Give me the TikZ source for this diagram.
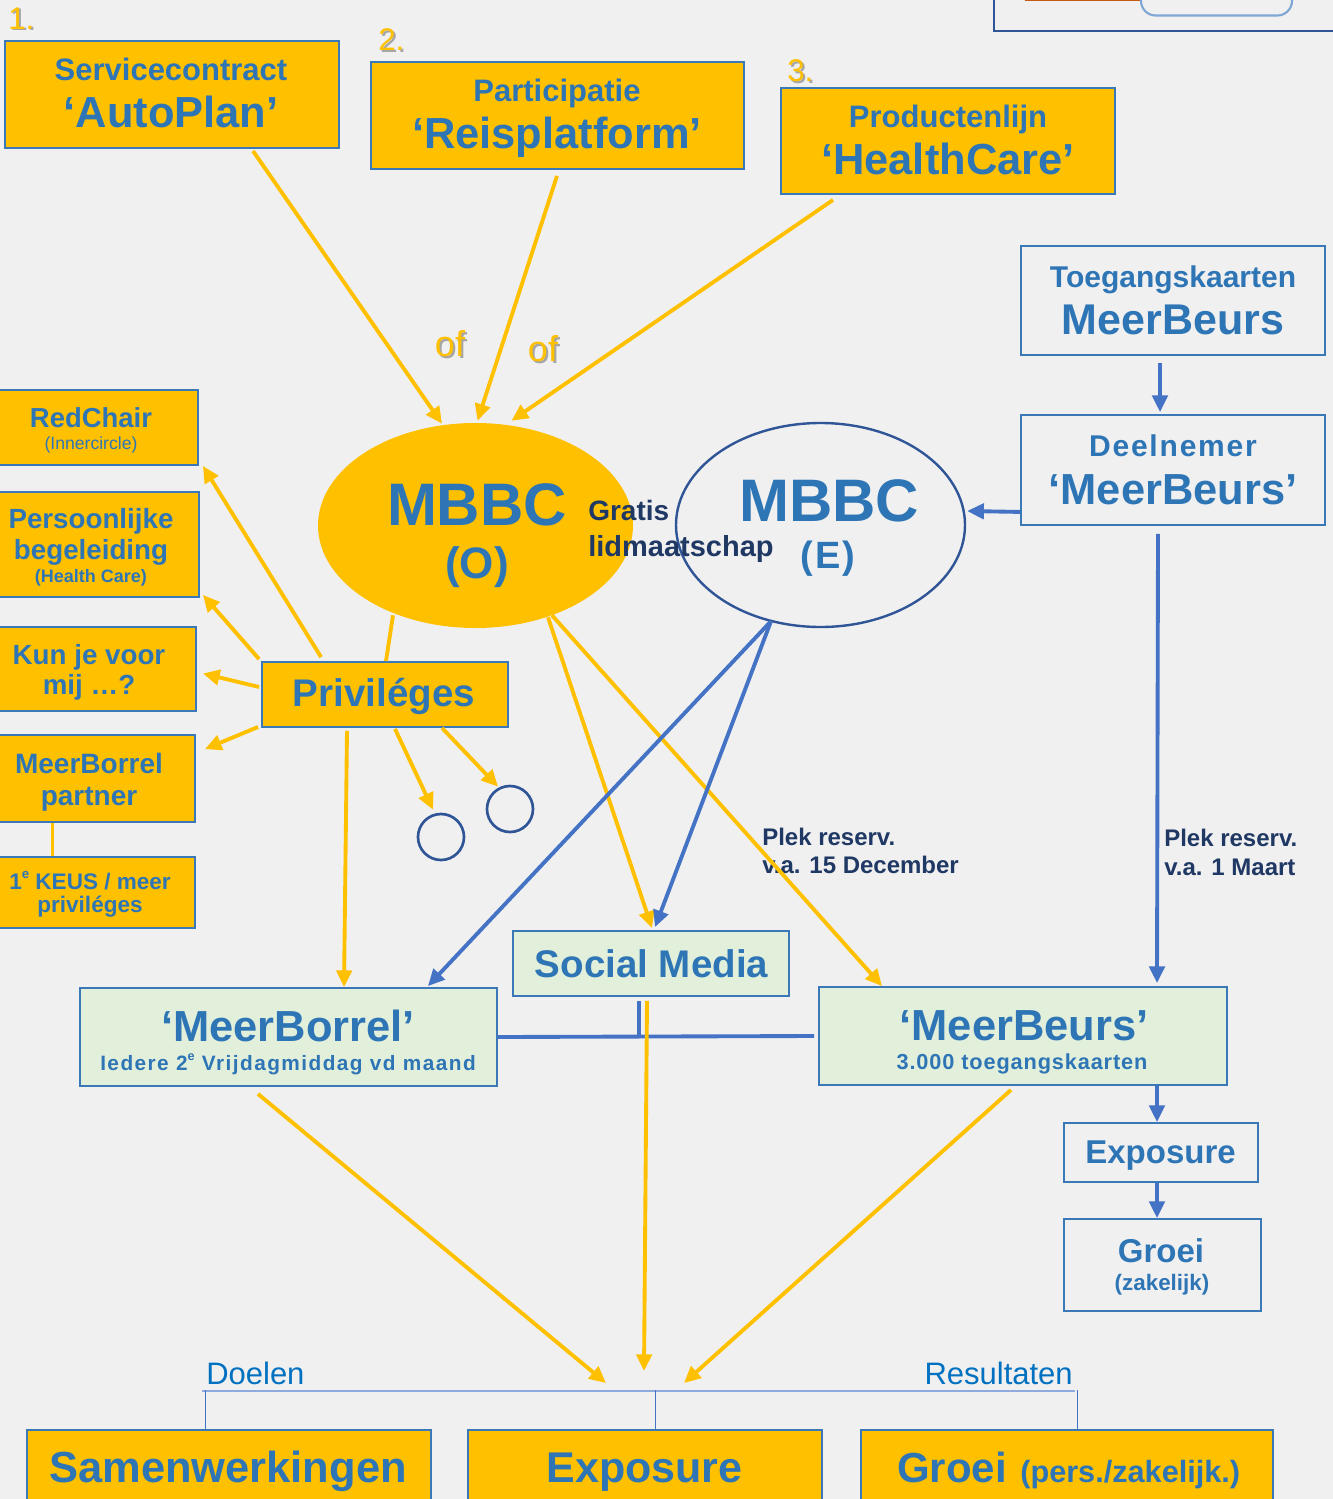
\documentclass[tikz,border=0pt]{standalone}
\usepackage{fontspec}
\setmainfont{Liberation Sans}
\usetikzlibrary{shapes.geometric,arrows.meta,fit,calc}
\definecolor{bg}{HTML}{F0F0F0}
\definecolor{yel}{HTML}{FFC000}
\definecolor{tblue}{HTML}{2E75B6}
\definecolor{bdr}{HTML}{3A78B8}
\definecolor{arrb}{HTML}{4472C4}
\definecolor{navy}{HTML}{1F3864}
\definecolor{ellE}{HTML}{2F5597}
\definecolor{grn}{HTML}{E2EFDA}
\definecolor{dblue}{HTML}{0070C0}
\definecolor{hlc}{HTML}{8FAADC}
\definecolor{orng}{HTML}{C55A11}
\definecolor{rrc}{HTML}{7FA7D6}
\newcommand\fpx[1]{\fontsize{#1pt}{#1pt}\selectfont}
\newcommand\mysupe[1]{\raisebox{0.45em}{\fpx{#1}e}}
\tikzset{
  ybox/.style={draw=bdr, line width=1.4pt, fill=yel, inner sep=0pt, rectangle},
  gbox/.style={draw=bdr, line width=1.4pt, fill=grn, inner sep=0pt, rectangle},
  wbox/.style={draw=bdr, line width=1.4pt, inner sep=0pt, rectangle},
  t/.style={text=tblue, inner sep=0pt, anchor=base},
  nv/.style={text=navy, inner sep=0pt, anchor=base west, font=\bfseries\fpx{18}},
  lbl/.style={text=yel, inner sep=0pt, anchor=base west},
  lblsh/.style={text=black!35, inner sep=0pt, anchor=base west},
  yarrow/.style={draw=yel, line width=2.9pt, -{Triangle[length=12.5pt,width=11.5pt]}},
  yline/.style={draw=yel, line width=2.9pt},
  barrow/.style={draw=arrb, line width=2.9pt, -{Triangle[length=12.5pt,width=11.5pt]}},
  bline/.style={draw=arrb, line width=2.9pt},
  ring/.style={circle, draw=ellE, line width=2pt, minimum size=34.5pt, inner sep=0pt},
}
\begin{document}
\begin{tikzpicture}[x=0.75pt,y=-0.75pt]
\fill[bg] (0,0) rectangle (1333,1499);
\useasboundingbox (0,0) rectangle (1333,1499);

% partial top-right object
\draw[ellE, line width=1.2pt] (994,-5) -- (994,31) -- (1340,31);
\draw[orng, line width=2pt] (1025,0) -- (1140,0);
\draw[rrc, line width=1.6pt, rounded corners=11pt] (1141,-20) -- (1141,15.5) -- (1292,15.5) -- (1292,-20);

% numbers and "of"
\node[lblsh, font=\fpx{23.5}] (n1s) at (10,31) {1.};
\node[lbl, font=\fpx{23.5}] (n1) at (8,29) {1.};
\node[lblsh, font=\fpx{23.5}] (n2s) at (380,52) {2.};
\node[lbl, font=\fpx{23.5}] (n2) at (378,50) {2.};
\node[lblsh, font=\fpx{23.5}] (n3s) at (789,83) {3.};
\node[lbl, font=\fpx{23.5}] (n3) at (787,81) {3.};
\node[lblsh, font=\fpx{27}, anchor=base] (of1s) at (452,358) {of};
\node[lbl, font=\fpx{27}, anchor=base] (of1) at (450,356) {of};
\node[lblsh, font=\fpx{27}, anchor=base] (of2s) at (545,363) {of};
\node[lbl, font=\fpx{27}, anchor=base] (of2) at (543,361) {of};

% top boxes
\node[ybox, fit={(5,41) (339,148)}] (b1) {};
\node[t, font=\bfseries\fpx{23.25}] (b1a) at (171,80) {Servicecontract};
\node[t, font=\bfseries\fpx{32.6}] (b1b) at (171,127) {‘AutoPlan’};
\node[ybox, fit={(371,62) (744,169)}] (b2) {};
\node[t, font=\bfseries\fpx{23.25}] (b2a) at (557,101) {Participatie};
\node[t, font=\bfseries\fpx{32.6}] (b2b) at (557,148) {‘Reisplatform’};
\node[ybox, fit={(781,88) (1115,194)}] (b3) {};
\node[t, font=\bfseries\fpx{23.25}] (b3a) at (948,127) {Productenlijn};
\node[t, font=\bfseries\fpx{32.6}] (b3b) at (948,174) {‘HealthCare’};

% right boxes
\node[wbox, fit={(1021,246) (1325,355)}] (tk) {};
\node[t, font=\bfseries\fpx{22.5}] (tka) at (1173,287) {Toegangskaarten};
\node[t, font=\bfseries\fpx{32.25}] (tkb) at (1173,334) {MeerBeurs};
\node[wbox, fit={(1021,415) (1325,525)}] (dn) {};
\node[t, font=\bfseries\fpx{22.5}\addfontfeatures{LetterSpace=6}] (dna) at (1173,456) {Deelnemer};
\node[t, font=\bfseries\fpx{32.6}] (dnb) at (1173,504) {‘MeerBeurs’};

% ellipses
\node[ellipse, fill=yel, minimum width=236.25pt, minimum height=153.75pt, inner sep=0pt] (O) at (475.5,525.5) {};
\node[ellipse, draw=ellE, line width=1.8pt, minimum width=216.75pt, minimum height=153pt, inner sep=0pt] (E) at (820.5,525) {};
\node[t, font=\bfseries\fpx{45}] (Oa) at (477,525) {MBBC};
\node[t, font=\bfseries\fpx{33}] (Ob) at (477,578) {(O)};
\node[t, font=\bfseries\fpx{45}] (Ea) at (829,521) {MBBC};
\node[t, font=\bfseries\fpx{28.5}\addfontfeatures{LetterSpace=5}] (Eb) at (828,568) {(E)};
\node[nv, font=\bfseries\fpx{21}] (gr1) at (588,520) {Gratis};
\node[nv, font=\bfseries\fpx{21.75}] (gr2) at (588,556) {lidmaatschap};

% left column
\node[ybox, fit={(-3,390) (198,465)}] (rc) {};
\node[t, font=\bfseries\fpx{20.6}] (rca) at (91,427) {RedChair};
\node[t, font=\fpx{13.2}] (rcb) at (91,449) {(Innercircle)};
\node[ybox, fit={(-3,492) (199,597)}] (pb) {};
\node[t, font=\bfseries\fpx{20.8}] (pba) at (91,528) {Persoonlijke};
\node[t, font=\bfseries\fpx{20.8}] (pbb) at (91,559) {begeleiding};
\node[t, font=\bfseries\fpx{13.5}] (pbc) at (91,582) {(Health Care)};
\node[ybox, fit={(-3,627) (196,711)}] (kj) {};
\node[t, font=\bfseries\fpx{20.8}] (kja) at (89,664) {Kun je voor};
\node[t, font=\bfseries\fpx{20.8}] (kjb) at (89,694) {mij …?};
\node[ybox, fit={(-3,735) (195,822)}] (mp) {};
\node[t, font=\bfseries\fpx{21}] (mpa) at (89,773) {MeerBorrel};
\node[t, font=\bfseries\fpx{21}] (mpb) at (89,805) {partner};
\node[ybox, fit={(-3,857) (195,928)}] (ks) {};
\node[t, font=\bfseries\fpx{16.9}] (ksa) at (90,889) {1\mysupe{10} KEUS / meer};
\node[t, font=\bfseries\fpx{16.9}] (ksb) at (90,912) {priviléges};
\draw[yline] ([shift={(-43.5,0)}]mp.south) -- ([shift={(-43.5,0)}]ks.north);

% privileges
\node[ybox, fit={(262,662) (508,727)}] (pv) {};
\node[t, font=\bfseries\fpx{28.9}] (pva) at (384,706) {Priviléges};
\node[ring] (c1) at (441,837) {};
\node[ring] (c2) at (510,809) {};

% middle boxes
\node[gbox, fit={(513,931) (789,996)}] (sm) {};
\node[t, font=\bfseries\fpx{28.9}] (sma) at (651.5,977) {Social Media};
\node[gbox, fit={(80,988) (497,1086)}] (mb) {};
\node[t, font=\bfseries\fpx{32.6}] (mba) at (288,1041) {‘MeerBorrel’};
\node[t, font=\bfseries\fpx{15.6}\addfontfeatures{LetterSpace=7}] (mbb) at (288,1070) {Iedere 2\mysupe{9.5} Vrijdagmiddag vd maand};
\node[gbox, fit={(819,987) (1227,1085)}] (mbe) {};
\node[t, font=\bfseries\fpx{32.6}] (mbea) at (1024,1040) {‘MeerBeurs’};
\node[t, font=\bfseries\fpx{16.3}\addfontfeatures{LetterSpace=4}] (mbeb) at (1022,1069) {3.000 toegangskaarten};
\node[wbox, fit={(1064,1123) (1258,1182)}] (ex) {};
\node[t, font=\bfseries\fpx{24.75}] (exa) at (1160.5,1163) {Exposure};
\node[wbox, fit={(1064,1219) (1261,1311)}] (gz) {};
\node[t, font=\bfseries\fpx{24.75}] (gza) at (1161,1262) {Groei};
\node[t, font=\bfseries\fpx{16.8}] (gzb) at (1162,1290) {(zakelijk)};

% plek labels
\node[nv] (pl1a) at (762,845) {Plek reserv.};
\node[nv] (pl1b) at (762,873) {v.a. 15 December};
\node[nv] (pl2a) at (1164,846) {Plek reserv.};
\node[nv] (pl2b) at (1164,875) {v.a. 1 Maart};

% bottom
\coordinate (hub) at (655,1391);
\node[text=dblue, inner sep=0pt, anchor=base west, font=\fpx{23.25}] (doel) at (206,1384) {Doelen};
\node[text=dblue, inner sep=0pt, anchor=base east, font=\fpx{23.25}] (res) at (1073,1384) {Resultaten};
\node[ybox, fit={(27,1430) (431,1515)}] (sw) {};
\node[ybox, fit={(468,1430) (822,1515)}] (bx) {};
\node[ybox, fit={(861,1430) (1273,1515)}] (bg) {};
\node[t, font=\bfseries\fpx{32.6}] (swa) at (228,1482) {Samenwerkingen};
\node[t, font=\bfseries\fpx{32.25}] (bxa) at (644.5,1482) {Exposure};
\node[t, anchor=base west, font=\bfseries\fpx{31.5}] (bga) at (897,1482) {Groei\hspace{10pt}{\fpx{23}(pers./zakelijk.)}};
\draw[hlc, line width=1.8pt] ([shift={(-453,0)}]hub) -- ([shift={(420,0)}]hub);
\draw[arrb, line width=0.7pt] ([shift={(-24,0)}]sw.north) -- ([shift={(-24,-39)}]sw.north);
\draw[arrb, line width=0.7pt] ([shift={(10,0)}]bx.north) -- ([shift={(10,-39)}]bx.north);
\draw[arrb, line width=0.7pt] ([shift={(10,0)}]bg.north) -- ([shift={(10,-39)}]bg.north);

% connectors: top boxes to O
\draw[yarrow] ([shift={(81,2)}]b1.south) -- ([shift={(-33.5,1)}]O.north);
\draw[yarrow] ([shift={(-0.5,6)}]b2.south) -- ([shift={(2,-2)}]O.north);
\draw[yarrow] ([shift={(-115,5)}]b3.south) -- ([shift={(36,-2)}]O.north);

% privileges arrows
\draw[yline] ([shift={(-82.5,-13)}]O.south) -- ([shift={(1,0)}]pv.north);
\draw[yarrow] ([shift={(60,-4)}]pv.north west) -- ([shift={(4,0)}]rc.south east);
\draw[yarrow] ([shift={(-2,-2)}]pv.north west) -- ([shift={(3,-3)}]pb.south east);
\draw[yarrow] ([shift={(-2,-7.5)}]pv.west) -- ([shift={(6,4.5)}]kj.east);
\draw[yarrow] ([shift={(-3,-1)}]pv.south west) -- ([shift={(9,15)}]mp.north east);
\draw[yarrow] ([shift={(10,1)}]pv.south) -- ([shift={(-8,-3)}]c1.north);
\draw[yarrow] ([shift={(57,0)}]pv.south) -- ([shift={(-12,2)}]c2.north);
\draw[yarrow] ([shift={(-38,3)}]pv.south) -- ([shift={(55.5,0)}]mb.north);

% O and E arrows
\draw[yarrow] ([shift={(72.5,-11)}]O.south) -- ([shift={(1,-2)}]sm.north);
\draw[yarrow] ([shift={(76.5,-13)}]O.south) -- ([shift={(64,0)}]mbe.north west);
\draw[barrow] ([shift={(-49.5,-7)}]E.south) -- ([shift={(-70,-1)}]mb.north east);
\draw[barrow] ([shift={(-49.5,-7)}]E.south) -- ([shift={(4,-3)}]sm.north);

% right side
\draw[barrow] ([shift={(-13,7)}]tk.south) -- ([shift={(-13,-2)}]dn.north);
\draw[barrow] ([shift={(0,-14)}]dn.south west) -- ([shift={(1,-14)}]E.east);
\draw[barrow] ([shift={(-15,8)}]dn.south) -- ([shift={(134,-3)}]mbe.north);
\draw[barrow] ([shift={(134,0)}]mbe.south) -- ([shift={(-4,0)}]ex.north);
\draw[barrow] ([shift={(-4,0)}]ex.south) -- ([shift={(-5.5,0)}]gz.north);

% horizontal blue connector
\coordinate (smj) at ([shift={(-12,4)}]sm.south);
\draw[bline] (mb.east) -- ([shift={(-4,0)}]mbe.west);
\draw[bline] (smj) -- (smj |- mb.east);

% to bottom
\draw[yarrow] ([shift={(-4,4)}]sm.south) -- ([shift={(-11,-20)}]hub);
\draw[yarrow] ([shift={(-30.5,7)}]mb.south) -- ([shift={(-49,-8)}]hub);
\draw[yarrow] ([shift={(-12,4)}]mbe.south) -- ([shift={(29,-8)}]hub);
\end{tikzpicture}
\end{document}
